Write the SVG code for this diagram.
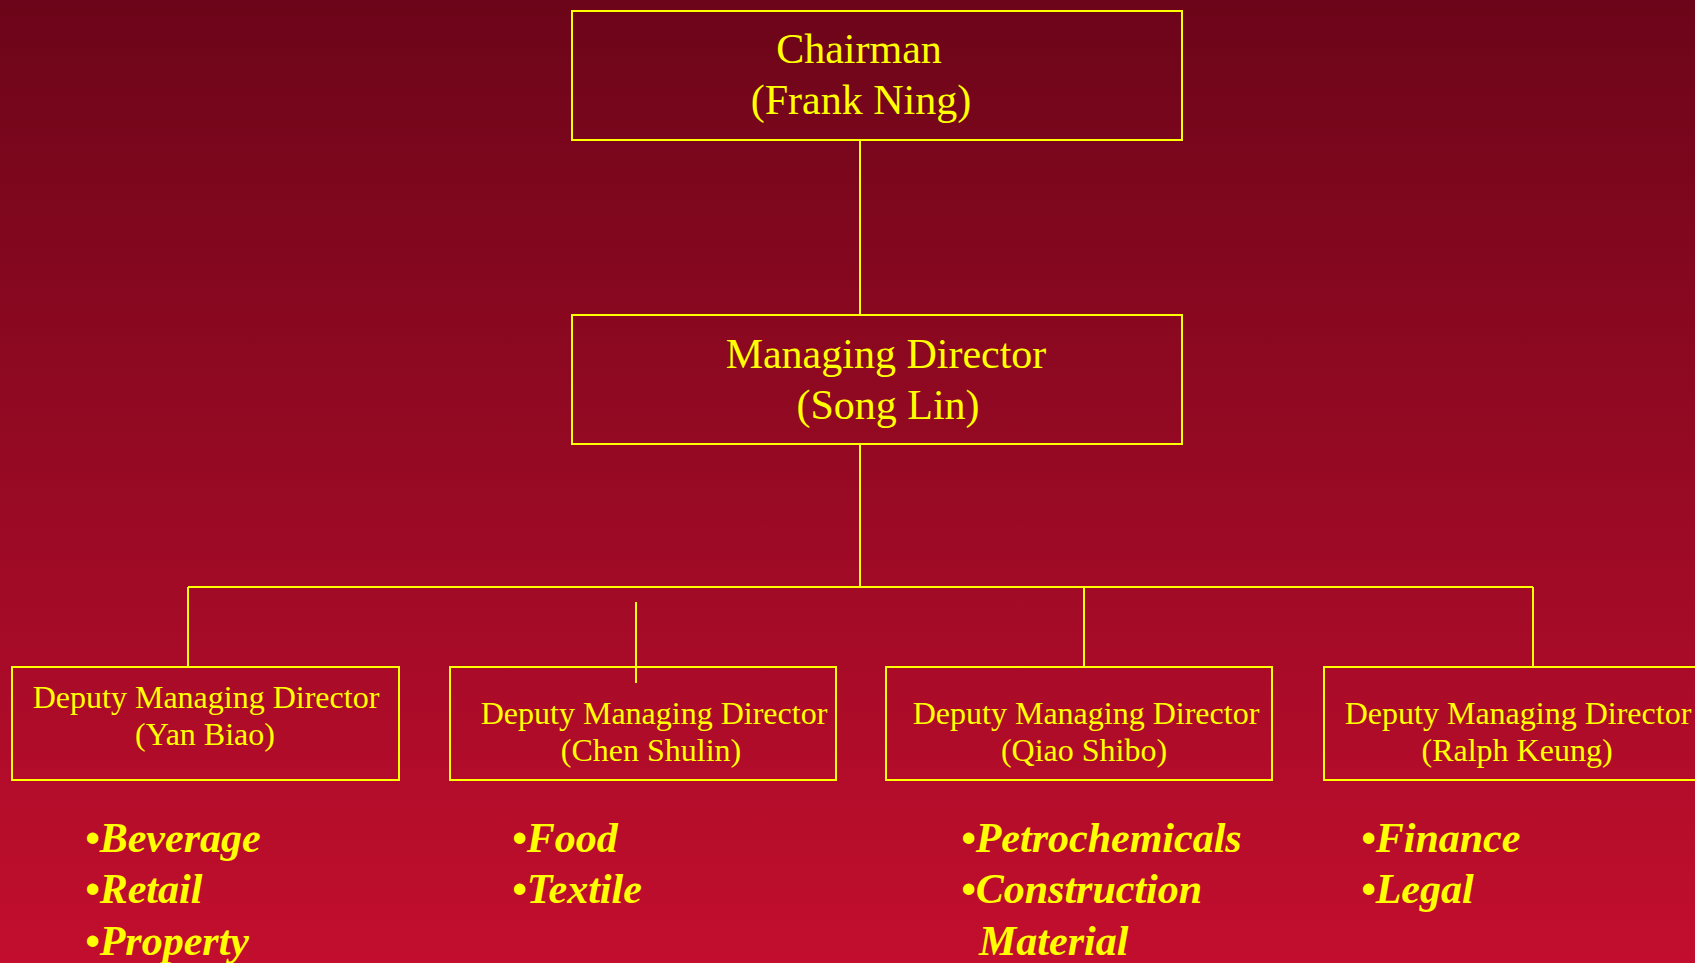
<svg xmlns="http://www.w3.org/2000/svg" width="1695" height="963" viewBox="0 0 1695 963">
<defs>
<linearGradient id="bg" x1="0" y1="0" x2="0" y2="1">
<stop offset="0" stop-color="#6C0519"/>
<stop offset="1" stop-color="#C30E2E"/>
</linearGradient>
</defs>
<style>
.box{fill:none;stroke:#FFFF00;stroke-width:2}
.ln{stroke:#FFFF00;stroke-width:2;fill:none}
.t{fill:#FFFF00;font-family:"Liberation Serif","Times New Roman",serif;text-anchor:middle}
.big{font-size:42px}
.mid{font-size:32px}
.b{fill:#FFFF00;font-family:"Liberation Serif","Times New Roman",serif;font-size:42px;font-weight:bold;font-style:italic}
</style>
<rect width="1695" height="963" fill="url(#bg)"/>
<g id="connectors">
<line class="ln" x1="860" y1="140" x2="860" y2="315"/>
<line class="ln" x1="860" y1="443" x2="860" y2="587"/>
<line class="ln" x1="188" y1="587" x2="1533" y2="587"/>
<line class="ln" x1="188" y1="587" x2="188" y2="667"/>
<line class="ln" x1="1084" y1="587" x2="1084" y2="667"/>
<line class="ln" x1="1533" y1="587" x2="1533" y2="667"/>
<line class="ln" x1="636" y1="602" x2="636" y2="683"/>
</g>
<g id="chairman">
<rect class="box" x="572" y="11" width="610" height="129"/>
<text class="t big" x="859" y="63">Chairman</text>
<text class="t big" x="861" y="114">(Frank Ning)</text>
</g>
<g id="md">
<rect class="box" x="572" y="315" width="610" height="129"/>
<text class="t big" x="886" y="368">Managing Director</text>
<text class="t big" x="888" y="419">(Song Lin)</text>
</g>
<g id="dmd1">
<rect class="box" x="12" y="667" width="387" height="113"/>
<text class="t mid" x="206" y="708">Deputy Managing Director</text>
<text class="t mid" x="205" y="745">(Yan Biao)</text>
</g>
<g id="dmd2">
<rect class="box" x="450" y="667" width="386" height="113"/>
<text class="t mid" x="654" y="724">Deputy Managing Director</text>
<text class="t mid" x="651" y="761">(Chen Shulin)</text>
</g>
<g id="dmd3">
<rect class="box" x="886" y="667" width="386" height="113"/>
<text class="t mid" x="1086" y="724">Deputy Managing Director</text>
<text class="t mid" x="1084" y="761">(Qiao Shibo)</text>
</g>
<g id="dmd4">
<rect class="box" x="1324" y="667" width="390" height="113"/>
<text class="t mid" x="1518" y="724">Deputy Managing Director</text>
<text class="t mid" x="1517" y="761">(Ralph Keung)</text>
</g>
<g id="list1">
<text class="b" x="85" y="852">•Beverage</text>
<text class="b" x="85" y="903">•Retail</text>
<text class="b" x="85" y="955">•Property</text>
</g>
<g id="list2">
<text class="b" x="512" y="852">•Food</text>
<text class="b" x="512" y="903">•Textile</text>
</g>
<g id="list3">
<text class="b" x="961" y="852">•Petrochemicals</text>
<text class="b" x="961" y="903">•Construction</text>
<text class="b" x="979" y="955">Material</text>
</g>
<g id="list4">
<text class="b" x="1361" y="852">•Finance</text>
<text class="b" x="1361" y="903">•Legal</text>
</g>
</svg>
